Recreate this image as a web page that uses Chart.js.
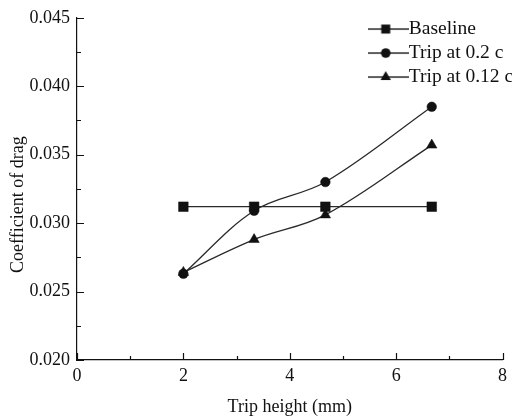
<!DOCTYPE html>
<html><head><meta charset="utf-8">
<script src="https://cdn.jsdelivr.net/npm/chart.js@4.4.1/dist/chart.umd.min.js"></script>
<style>html,body{margin:0;padding:0;background:#fff}</style>
</head><body>
<canvas id="c" width="512" height="420" style="width:512px;height:420px;display:block"></canvas>
<script>
// ---- data ----
const tripHeights = [2, 3.33, 4.67, 6.67];
const baseline = [0.0312, 0.0312, 0.0312, 0.0312];
const trip02c = [0.0263, 0.0309, 0.0330, 0.0385];
const trip012c = [0.0264, 0.0288, 0.0306, 0.0357];
const seriesNames = ['Baseline', 'Trip at 0.2 c', 'Trip at 0.12 c'];
const xTicks = [0, 2, 4, 6, 8];
const yTicks = [0.020, 0.025, 0.030, 0.035, 0.040, 0.045];
const xTitle = 'Trip height (mm)';
const yTitle = 'Coefficient of drag';

const INK = '#111';
const LINE = '#2a2a2a';
const FONT = "'Liberation Serif', 'Times New Roman', serif";
const LEGEND_SIZE = 19.5;

function pts(ys) { return tripHeights.map((x, i) => ({x, y: ys[i]})); }

function legendSymbol(style) {
  const cv = document.createElement('canvas');
  cv.width = 46; cv.height = 16;
  const g = cv.getContext('2d');
  g.strokeStyle = LINE; g.lineWidth = 1.3;
  g.beginPath(); g.moveTo(0, 8); g.lineTo(46, 8); g.stroke();
  g.fillStyle = INK;
  g.beginPath();
  if (style === 'rect') { g.rect(23 - 4.5, 8 - 4.5, 9, 9); }
  else if (style === 'circle') { g.arc(23, 8, 4.8, 0, Math.PI * 2); }
  else { const r = 6; g.moveTo(23, 8 - r); g.lineTo(23 + r * 0.866, 8 + r / 2); g.lineTo(23 - r * 0.866, 8 + r / 2); g.closePath(); }
  g.fill();
  return cv;
}
const styles = ['rect', 'circle', 'triangle'];
const symbols = styles.map(legendSymbol);

const common = {
  borderColor: LINE, borderWidth: 1.3, backgroundColor: INK,
  pointBackgroundColor: INK, pointBorderColor: INK, pointBorderWidth: 0.5,
  tension: 0.35, fill: false
};

const inwardTicks = {
  id: 'inwardTicks',
  afterDraw(chart) {
    const {ctx, chartArea: a, scales: {x, y}} = chart;
    ctx.save();
    ctx.strokeStyle = INK; ctx.lineWidth = 1.2;
    ctx.beginPath();
    const major = 7, minor = 4;
    xTicks.forEach((v, i) => {
      const p = Math.round(x.getPixelForValue(v)) + 0.5;
      ctx.moveTo(p, a.bottom); ctx.lineTo(p, a.bottom - major);
      if (i < xTicks.length - 1) {
        const m = Math.round(x.getPixelForValue((v + xTicks[i + 1]) / 2)) + 0.5;
        ctx.moveTo(m, a.bottom); ctx.lineTo(m, a.bottom - minor);
      }
    });
    yTicks.forEach((v, i) => {
      const p = Math.round(y.getPixelForValue(v)) + 0.5;
      ctx.moveTo(a.left, p); ctx.lineTo(a.left + major, p);
      if (i < yTicks.length - 1) {
        const m = Math.round(y.getPixelForValue((v + yTicks[i + 1]) / 2)) + 0.5;
        ctx.moveTo(a.left, m); ctx.lineTo(a.left + minor, m);
      }
    });
    ctx.stroke();
    ctx.restore();
  }
};

const placeLegend = {
  id: 'placeLegend',
  afterLayout(chart) {
    const lg = chart.legend, a = chart.chartArea;
    if (!lg) return;
    const pad = lg.options.labels.padding;
    lg.left = a.right - 130 - pad;
    lg.top = a.top + 1.5 - pad;
    lg.right = chart.width; lg.bottom = a.bottom;
    lg.width = lg.right - lg.left;
  }
};

new Chart(document.getElementById('c'), {
  type: 'line',
  data: {
    datasets: [
      Object.assign({label: seriesNames[0], data: pts(baseline), pointStyle: 'rect', pointRadius: 6.8, pointHoverRadius: 6.8}, common),
      Object.assign({label: seriesNames[1], data: pts(trip02c), pointStyle: 'circle', pointRadius: 4.8, pointHoverRadius: 4.8}, common),
      Object.assign({label: seriesNames[2], data: pts(trip012c), pointStyle: 'triangle', pointRadius: 6, pointHoverRadius: 6}, common)
    ]
  },
  options: {
    responsive: false, devicePixelRatio: 1, animation: false,
    layout: {padding: {left: 0, right: 9, top: 17, bottom: 0}},
    plugins: {
      tooltip: {enabled: false},
      legend: {
        position: 'chartArea', align: 'start',
        labels: {
          usePointStyle: true, pointStyleWidth: 26.5, padding: 4.5,
          color: INK, font: {family: FONT, size: LEGEND_SIZE},
          generateLabels(chart) {
            const items = Chart.defaults.plugins.legend.labels.generateLabels(chart);
            items.forEach((it, i) => { it.pointStyle = symbols[i]; });
            return items;
          }
        }
      }
    },
    scales: {
      x: {
        type: 'linear', min: xTicks[0], max: xTicks[xTicks.length - 1],
        afterBuildTicks(s) { s.ticks = xTicks.map(v => ({value: v})); },
        afterFit(s) { s.height = 60; },
        grid: {display: false, drawTicks: false},
        border: {display: true, color: INK, width: 1.2},
        ticks: {color: INK, font: {family: FONT, size: 18}, padding: 5, maxRotation: 0, callback: v => String(v)},
        title: {display: true, text: xTitle, color: INK, font: {family: FONT, size: 18}, padding: {top: 0, bottom: 2}}
      },
      y: {
        type: 'linear', min: yTicks[0], max: yTicks[yTicks.length - 1],
        afterBuildTicks(s) { s.ticks = yTicks.map(v => ({value: v})); },
        afterFit(s) { s.width = 77; },
        grid: {display: false, drawTicks: false},
        border: {display: true, color: INK, width: 1.2},
        ticks: {color: INK, font: {family: FONT, size: 18}, padding: 7, callback: v => Number(v).toFixed(3)},
        title: {display: true, text: yTitle + '       ', color: INK, font: {family: FONT, size: 18}, padding: {top: 7, bottom: 0}}
      }
    }
  },
  plugins: [inwardTicks, placeLegend]
});
</script>
</body></html>
